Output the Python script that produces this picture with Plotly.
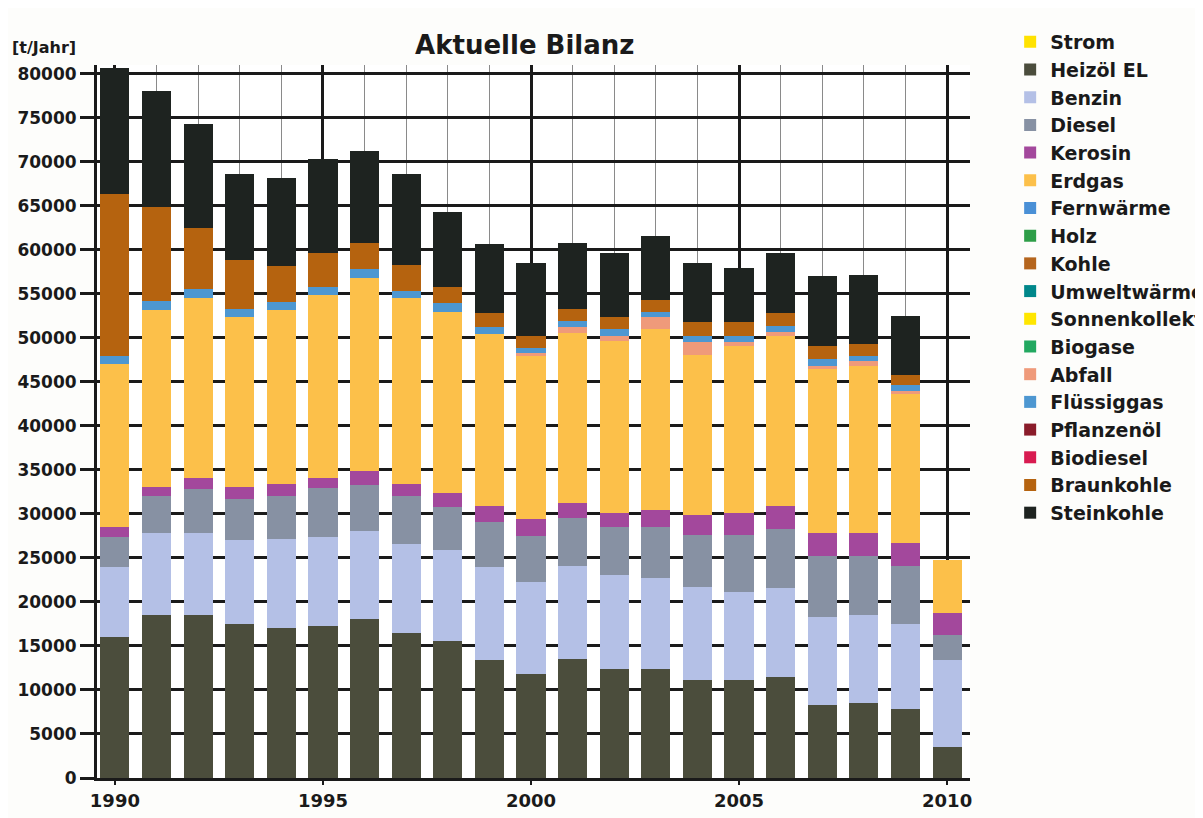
import plotly.graph_objects as go

years = list(range(1990, 2011))

strom = [0] * 21
heizoel = [16050, 18540, 18540, 17530, 17000, 17260, 18050, 16470, 15530, 13400, 11810,
           13560, 12340, 12340, 11170, 11170, 11440, 8280, 8540, 7880, 3490]
benzin = [7890, 9250, 9250, 9470, 10100, 10110, 10000, 10110, 10420, 10540, 10420,
          10540, 10690, 10430, 10530, 10000, 10190, 10000, 10000, 9640, 9950]
diesel = [3480, 4210, 5010, 4740, 4900, 5530, 5270, 5420, 4850, 5190, 5300,
          5430, 5440, 5700, 5930, 6460, 6680, 6980, 6720, 6550, 2760]
kerosin = [1050, 1050, 1300, 1310, 1420, 1200, 1580, 1420, 1620, 1820, 1840,
           1680, 1690, 1950, 2260, 2420, 2640, 2580, 2580, 2580, 2600]
erdgas = [18590, 20070, 20380, 19370, 19700, 20800, 21900, 21060, 20540, 19480, 18570,
          19380, 19520, 20580, 18130, 19050, 19320, 18600, 18970, 16930, 5940]
fernwaerme = [0] * 21
holz = [0] * 21
kohle = [0] * 21
umweltwaerme = [0] * 21
sonnenkollektoren = [0] * 21
biogase = [0] * 21
abfall = [0, 0, 0, 0, 0, 0, 0, 0, 0, 0, 310,
          650, 590, 1420, 1510, 430, 430, 370, 510, 410, 0]
fluessiggas = [930, 1070, 1040, 810, 970, 870, 980, 880, 960, 810, 620,
               640, 730, 540, 740, 740, 650, 770, 670, 620, 0]
pflanzenoel = [0] * 21
biodiesel = [0] * 21
braunkohle = [18360, 10710, 6930, 5640, 4110, 3870, 2990, 2890, 1850, 1610, 1400,
              1400, 1420, 1390, 1500, 1500, 1500, 1520, 1370, 1160, 0]
steinkohle = [14340, 13100, 11880, 9780, 9920, 10720, 10470, 10400, 8500, 7830, 8230,
              7490, 7220, 7210, 6730, 6220, 6790, 7910, 7750, 6670, 0]

series_names = ["Strom", "Heizöl EL", "Benzin", "Diesel", "Kerosin", "Erdgas", "Fernwärme",
                "Holz", "Kohle", "Umweltwärme", "Sonnenkollektoren", "Biogase", "Abfall",
                "Flüssiggas", "Pflanzenöl", "Biodiesel", "Braunkohle", "Steinkohle"]
series_values = [strom, heizoel, benzin, diesel, kerosin, erdgas, fernwaerme, holz, kohle,
                 umweltwaerme, sonnenkollektoren, biogase, abfall, fluessiggas, pflanzenoel,
                 biodiesel, braunkohle, steinkohle]
series_colors = ["#ffe200", "#4b4d3c", "#b4c0e6", "#8791a3", "#a3489c", "#fcc04a", "#4a90d6",
                 "#2e9e48", "#b5651d", "#00878a", "#ffe600", "#22a860", "#ef9a7a",
                 "#4d97d1", "#8a1c2a", "#d81b50", "#b5630f", "#1e2320"]

x_tickvals = [1990, 1995, 2000, 2005, 2010]
x_ticktext = ["1990", "1995", "2000", "2005", "2010"]
y_tickvals = list(range(0, 80001, 5000))

FONT = "DejaVu Sans"
INK = "#1a1a1a"

fig = go.Figure()
for name, vals, col in zip(series_names, series_values, series_colors):
    fig.add_trace(go.Bar(x=years, y=vals, name=name, marker=dict(color=col, line=dict(width=0)),
                         width=0.7))

# page body adds an 8px offset, so the figure is sized/placed to compensate
fig.update_layout(
    width=1195, height=810,
    barmode="stack",
    paper_bgcolor="#fdfdfb",
    plot_bgcolor="#ffffff",
    margin=dict(l=89, r=233, t=57, b=40, autoexpand=False),
    font=dict(family=FONT, size=18, color=INK, weight="bold"),
    title=dict(text="Aktuelle Bilanz", x=0.49, xref="paper", xanchor="center",
               y=1 - 37 / 810, yref="container", yanchor="middle",
               font=dict(family=FONT, size=26, color=INK, weight="bold")),
    legend=dict(x=1.046, y=1.059, xanchor="left", yanchor="top", traceorder="normal",
                maxheight=600,
                font=dict(family=FONT, size=19, color=INK, weight="bold"),
                bgcolor="rgba(0,0,0,0)", itemclick=False),
    showlegend=True,
    annotations=[dict(text="[t/Jahr]", xref="paper", yref="paper", x=-0.0997, y=1.024,
                      xanchor="left", yanchor="middle", showarrow=False,
                      font=dict(family=FONT, size=16, color=INK, weight="bold"))],
)

fig.update_xaxes(
    range=[1989.57, 2010.55],
    tickmode="array", tickvals=x_tickvals, ticktext=x_ticktext,
    showgrid=True, gridcolor=INK, gridwidth=3,
    minor=dict(tickmode="linear", tick0=1990, dtick=1, showgrid=True,
               gridcolor="#8a8a8a", gridwidth=1, ticks=""),
    showline=True, linecolor=INK, linewidth=3,
    ticks="outside", ticklen=4, tickwidth=2, tickcolor=INK,
    tickfont=dict(family=FONT, size=18, color=INK, weight="bold"),
    zeroline=False,
)
fig.update_yaxes(
    range=[0, 81000],
    tickmode="array", tickvals=y_tickvals, ticktext=[str(v) for v in y_tickvals],
    showgrid=True, gridcolor=INK, gridwidth=3,
    showline=True, linecolor=INK, linewidth=3,
    ticks="outside", ticklen=14, tickwidth=3, tickcolor=INK,
    tickfont=dict(family=FONT, size=17, color=INK, weight="bold"),
    zeroline=False,
)

fig.write_html("out.html")
